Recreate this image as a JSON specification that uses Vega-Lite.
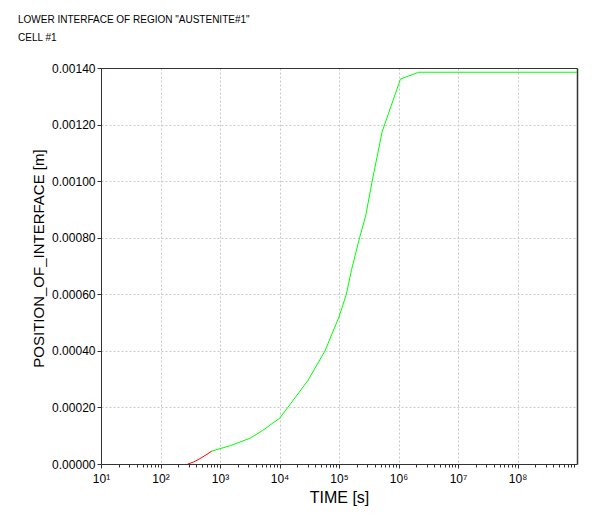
{
  "$schema": "https://vega.github.io/schema/vega-lite/v6.json",
  "width": 476,
  "height": 396,
  "autosize": "none",
  "padding": {"left": 101, "top": 68, "right": 23, "bottom": 66},
  "background": "white",
  "config": {
    "font": "Liberation Sans",
    "view": {"stroke": null}
  },
  "title": {
    "text": ["LOWER INTERFACE OF REGION \"AUSTENITE#1\"", "CELL #1"],
    "anchor": "start",
    "frame": "group",
    "dx": -83,
    "offset": 19,
    "fontSize": 10,
    "fontWeight": "normal",
    "color": "black",
    "lineHeight": 18,
    "font": "Liberation Sans"
  },
  "data": {
    "values": [
      {"t": 288, "pos": 0.0, "seg": "red"},
      {"t": 360, "pos": 0.000007, "seg": "red"},
      {"t": 460, "pos": 0.000019, "seg": "red"},
      {"t": 580, "pos": 0.000032, "seg": "red"},
      {"t": 730, "pos": 0.0000458, "seg": "red"},
      {"t": 730, "pos": 0.0000458, "seg": "green"},
      {"t": 1500, "pos": 0.000065, "seg": "green"},
      {"t": 3160, "pos": 0.0000906, "seg": "green"},
      {"t": 5250, "pos": 0.000119, "seg": "green"},
      {"t": 7500, "pos": 0.000143, "seg": "green"},
      {"t": 10000, "pos": 0.000161, "seg": "green"},
      {"t": 13800, "pos": 0.0002, "seg": "green"},
      {"t": 30000, "pos": 0.000295, "seg": "green"},
      {"t": 58200, "pos": 0.0004, "seg": "green"},
      {"t": 100000, "pos": 0.00052, "seg": "green"},
      {"t": 132800, "pos": 0.0006, "seg": "green"},
      {"t": 163000, "pos": 0.000688, "seg": "green"},
      {"t": 222000, "pos": 0.0008, "seg": "green"},
      {"t": 280000, "pos": 0.000876, "seg": "green"},
      {"t": 361000, "pos": 0.001, "seg": "green"},
      {"t": 531000, "pos": 0.001175, "seg": "green"},
      {"t": 1080000, "pos": 0.001361, "seg": "green"},
      {"t": 2190000, "pos": 0.001385, "seg": "green"},
      {"t": 1000000000, "pos": 0.001385, "seg": "green"}
    ]
  },
  "resolve": {"axis": {"x": "independent", "y": "independent"}},
  "layer": [
    {
      "mark": {"type": "line", "strokeWidth": 1, "clip": true},
      "encoding": {
        "x": {
          "field": "t", "type": "quantitative",
          "scale": {"type": "log", "domain": [10, 1000000000], "nice": false},
          "axis": {
            "orient": "bottom",
            "title": "TIME [s]",
            "titleFontSize": 16,
            "titleFontWeight": "normal",
            "titleColor": "black",
            "titleY": 33,
            "titleBaseline": "middle",
            "values": [10, 100, 1000, 10000, 100000, 1000000, 10000000, 100000000],
            "labelExpr": "'10' + ['⁰','¹','²','³','⁴','⁵','⁶','⁷','⁸','⁹'][round(log(datum.value)/LN10)]",
            "labelFontSize": 12,
            "labelColor": "black",
            "labelPadding": 5,
            "labelFlush": false,
            "labelOverlap": false,
            "tickSize": 4,
            "tickColor": "#333333",
            "domainColor": "#333333",
            "grid": true,
            "gridColor": "#c8c8c8",
            "gridDash": [2, 2]
          }
        },
        "y": {
          "field": "pos", "type": "quantitative",
          "scale": {"domain": [0, 0.0014], "nice": false, "zero": true},
          "axis": {
            "orient": "left",
            "title": "POSITION_OF_INTERFACE [m]",
            "titleFontSize": 15,
            "titleFontWeight": "normal",
            "titleColor": "black",
            "titleX": -63,
            "titleY": 190,
            "titleAngle": -90,
            "titleBaseline": "middle",
            "titleAlign": "center",
            "values": [0, 0.0002, 0.0004, 0.0006, 0.0008, 0.001, 0.0012, 0.0014],
            "format": ".5f",
            "labelFontSize": 12,
            "labelColor": "black",
            "labelPadding": 2,
            "labelFlush": false,
            "tickSize": 4,
            "tickColor": "#333333",
            "domainColor": "#333333",
            "grid": true,
            "gridColor": "#c8c8c8",
            "gridDash": [2, 2]
          }
        },
        "color": {
          "field": "seg", "type": "nominal",
          "scale": {"domain": ["red", "green"], "range": ["#ff0000", "#00ff00"]},
          "legend": null
        },
        "detail": {"field": "seg"}
      }
    },
    {
      "mark": {"type": "line", "opacity": 0},
      "encoding": {
        "x": {
          "field": "t", "type": "quantitative",
          "scale": {"type": "log", "domain": [10, 1000000000], "nice": false},
          "axis": {
            "orient": "bottom",
            "title": null,
            "labels": false,
            "grid": false,
            "domain": false,
            "tickSize": 3,
            "tickColor": "#333333",
            "values": [20,30,40,50,60,70,80,90,200,300,400,500,600,700,800,900,2000,3000,4000,5000,6000,7000,8000,9000,20000,30000,40000,50000,60000,70000,80000,90000,200000,300000,400000,500000,600000,700000,800000,900000,2000000,3000000,4000000,5000000,6000000,7000000,8000000,9000000,20000000,30000000,40000000,50000000,60000000,70000000,80000000,90000000,200000000,300000000,400000000,500000000,600000000,700000000,800000000,900000000]
          }
        },
        "y": {"field": "pos", "type": "quantitative", "axis": null}
      }
    },
    {
      "mark": {"type": "line", "opacity": 0},
      "encoding": {
        "x": {
          "field": "t", "type": "quantitative",
          "scale": {"type": "log", "domain": [10, 1000000000], "nice": false},
          "axis": {
            "orient": "top",
            "title": null,
            "labels": false,
            "ticks": false,
            "grid": false,
            "domain": true,
            "domainColor": "#333333"
          }
        },
        "y": {
          "field": "pos", "type": "quantitative",
          "axis": {
            "orient": "right",
            "title": null,
            "labels": false,
            "ticks": false,
            "grid": false,
            "domain": true,
            "domainColor": "#333333",
            "domainWidth": 1.5
          }
        }
      }
    }
  ]
}
